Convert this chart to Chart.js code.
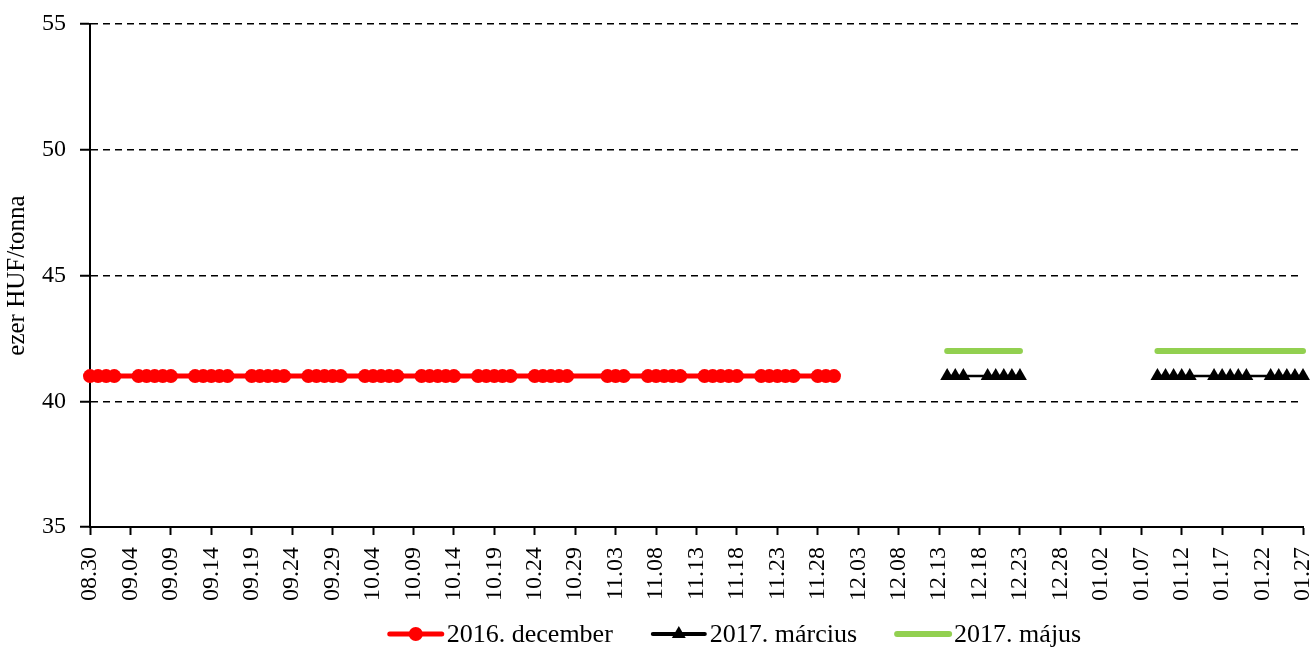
<!DOCTYPE html>
<html lang="hu">
<head>
    <meta charset="UTF-8">
    <title>ezer HUF/tonna</title>
    <script src="https://cdn.jsdelivr.net/npm/chart.js"></script>
    <style>
        body {
            margin: 0;
            padding: 0;
            background-color: white;
        }
        #wrap {
            width: 1315px;
            height: 650px;
        }
    </style>
</head>
<body>
    <div id="wrap">
        <canvas id="priceChart"></canvas>
    </div>

    <script>
        // tick labels of the date axis (every 5th day)
        const tickLabels = ['08.30', '09.04', '09.09', '09.14', '09.19', '09.24', '09.29', '10.04', '10.09',
            '10.14', '10.19', '10.24', '10.29', '11.03', '11.08', '11.13', '11.18', '11.23', '11.28',
            '12.03', '12.08', '12.13', '12.18', '12.23', '12.28', '01.02', '01.07', '01.12', '01.17',
            '01.22', '01.27'];

        // 2016. december contract
        const decDates = ['08.30', '08.31', '09.01', '09.02',
            '09.05', '09.06', '09.07', '09.08', '09.09',
            '09.12', '09.13', '09.14', '09.15', '09.16',
            '09.19', '09.20', '09.21', '09.22', '09.23',
            '09.26', '09.27', '09.28', '09.29', '09.30',
            '10.03', '10.04', '10.05', '10.06', '10.07',
            '10.10', '10.11', '10.12', '10.13', '10.14',
            '10.17', '10.18', '10.19', '10.20', '10.21',
            '10.24', '10.25', '10.26', '10.27', '10.28',
            '11.02', '11.03', '11.04',
            '11.07', '11.08', '11.09', '11.10', '11.11',
            '11.14', '11.15', '11.16', '11.17', '11.18',
            '11.21', '11.22', '11.23', '11.24', '11.25',
            '11.28', '11.29', '11.30'];
        const decValues = [41, 41, 41, 41,
            41, 41, 41, 41, 41,
            41, 41, 41, 41, 41,
            41, 41, 41, 41, 41,
            41, 41, 41, 41, 41,
            41, 41, 41, 41, 41,
            41, 41, 41, 41, 41,
            41, 41, 41, 41, 41,
            41, 41, 41, 41, 41,
            41, 41, 41,
            41, 41, 41, 41, 41,
            41, 41, 41, 41, 41,
            41, 41, 41, 41, 41,
            41, 41, 41];

        // 2017. március contract
        const marDates = ['12.14', '12.15', '12.16',
            '12.19', '12.20', '12.21', '12.22', '12.23',
            '01.09', '01.10', '01.11', '01.12', '01.13',
            '01.16', '01.17', '01.18', '01.19', '01.20',
            '01.23', '01.24', '01.25', '01.26', '01.27'];
        const marValues = [41, 41, 41,
            41, 41, 41, 41, 41,
            41, 41, 41, 41, 41,
            41, 41, 41, 41, 41,
            41, 41, 41, 41, 41];

        // 2017. május contract
        const majDates = marDates;
        const majValues = [42, 42, 42,
            42, 42, 42, 42, 42,
            42, 42, 42, 42, 42,
            42, 42, 42, 42, 42,
            42, 42, 42, 42, 42];

        const firstDay = Date.UTC(2016, 7, 30);

        // 'MM.DD' -> days since 2016.08.30
        function dayIndex(mmdd) {
            const parts = mmdd.split('.').map(Number);
            const year = parts[0] >= 8 ? 2016 : 2017;
            return Math.round((Date.UTC(year, parts[0] - 1, parts[1]) - firstDay) / 86400000);
        }

        function toPoints(dates, values) {
            return dates.map((d, i) => ({ x: dayIndex(d), y: values[i] }));
        }

        const serif = '"Liberation Serif", "Times New Roman", serif';

        // legend drawn as line sample + marker + text, like the spreadsheet legend
        const lineLegend = {
            id: 'lineLegend',
            afterDraw(chart) {
                const ctx = chart.ctx;
                const sampleW = 58;
                const gap = 2;
                const spacing = 37;
                const y = 634;
                ctx.save();
                ctx.font = '26px ' + serif;
                ctx.textBaseline = 'middle';
                const items = chart.data.datasets.map(ds => ({ ds: ds, w: ctx.measureText(ds.label).width }));
                let total = 0;
                items.forEach((it, i) => { total += sampleW + gap + it.w + (i > 0 ? spacing : 0); });
                let x = 734 - total / 2;
                items.forEach(it => {
                    const ds = it.ds;
                    ctx.strokeStyle = ds.borderColor;
                    ctx.lineWidth = Math.max(ds.borderWidth, 4);
                    ctx.lineCap = 'round';
                    ctx.beginPath();
                    ctx.moveTo(x + 3, y);
                    ctx.lineTo(x + sampleW - 3, y);
                    ctx.stroke();
                    ctx.fillStyle = ds.borderColor;
                    const cx = x + sampleW / 2;
                    if (ds.pointStyle === 'circle' && ds.pointRadius > 0) {
                        ctx.beginPath();
                        ctx.arc(cx, y, ds.pointRadius, 0, Math.PI * 2);
                        ctx.fill();
                    } else if (ds.pointStyle === 'triangle' && ds.pointRadius > 0) {
                        const r = ds.pointRadius;
                        ctx.beginPath();
                        ctx.moveTo(cx, y - r);
                        ctx.lineTo(cx + r * 0.866, y + r * 0.5);
                        ctx.lineTo(cx - r * 0.866, y + r * 0.5);
                        ctx.closePath();
                        ctx.fill();
                    }
                    ctx.fillStyle = '#000';
                    ctx.textAlign = 'left';
                    ctx.fillText(ds.label, x + sampleW + gap, y + 1);
                    x += sampleW + gap + it.w + spacing;
                });
                ctx.restore();
            }
        };

        const ctx = document.getElementById('priceChart').getContext('2d');
        new Chart(ctx, {
            type: 'line',
            data: {
                datasets: [{
                    label: '2016. december',
                    data: toPoints(decDates, decValues),
                    borderColor: '#FF0000',
                    backgroundColor: '#FF0000',
                    borderWidth: 5,
                    borderCapStyle: 'round',
                    pointStyle: 'circle',
                    pointRadius: 7,
                    pointHoverRadius: 7,
                    pointBorderWidth: 0,
                    spanGaps: 5,
                    clip: false
                }, {
                    label: '2017. március',
                    data: toPoints(marDates, marValues),
                    borderColor: '#000000',
                    backgroundColor: '#000000',
                    borderWidth: 2.5,
                    pointStyle: 'triangle',
                    pointRadius: 8,
                    pointHoverRadius: 8,
                    pointBorderWidth: 0,
                    spanGaps: 5,
                    clip: false
                }, {
                    label: '2017. május',
                    data: toPoints(majDates, majValues),
                    borderColor: '#92D050',
                    backgroundColor: '#92D050',
                    borderWidth: 6,
                    borderCapStyle: 'round',
                    pointStyle: false,
                    pointRadius: 0,
                    pointHoverRadius: 0,
                    spanGaps: 5,
                    clip: false
                }]
            },
            options: {
                responsive: true,
                maintainAspectRatio: false,
                animation: false,
                layout: {
                    padding: { top: 24, right: 12, bottom: 40, left: 0 }
                },
                plugins: {
                    legend: { display: false },
                    tooltip: { enabled: false }
                },
                scales: {
                    x: {
                        type: 'linear',
                        min: 0,
                        max: 150,
                        afterFit: scale => {
                            scale.height = 83;
                            scale.paddingLeft = 0;
                            scale.paddingRight = 0;
                        },
                        ticks: {
                            stepSize: 5,
                            autoSkip: false,
                            minRotation: 90,
                            maxRotation: 90,
                            padding: 12,
                            color: '#000',
                            font: { family: serif, size: 24 },
                            callback: value => tickLabels[Math.round(value / 5)]
                        },
                        grid: {
                            drawOnChartArea: false,
                            drawTicks: true,
                            tickLength: 8,
                            tickColor: '#000',
                            tickWidth: 2
                        },
                        border: { color: '#000', width: 2 }
                    },
                    y: {
                        min: 35,
                        max: 55,
                        afterFit: scale => {
                            scale.width = 90;
                            scale.paddingTop = 0;
                            scale.paddingBottom = 0;
                        },
                        ticks: {
                            stepSize: 5,
                            padding: 14,
                            color: '#000',
                            font: { family: serif, size: 24 }
                        },
                        title: {
                            display: true,
                            text: 'ezer HUF/tonna',
                            color: '#000',
                            padding: { top: 2, bottom: 0 },
                            font: { family: serif, size: 25 }
                        },
                        grid: {
                            color: '#000',
                            lineWidth: 1.5,
                            tickLength: 10,
                            tickColor: '#000',
                            tickWidth: 2,
                            tickBorderDash: []
                        },
                        border: { color: '#000', width: 2, dash: [7, 5] }
                    }
                }
            },
            plugins: [lineLegend]
        });
    </script>
</body>
</html>
